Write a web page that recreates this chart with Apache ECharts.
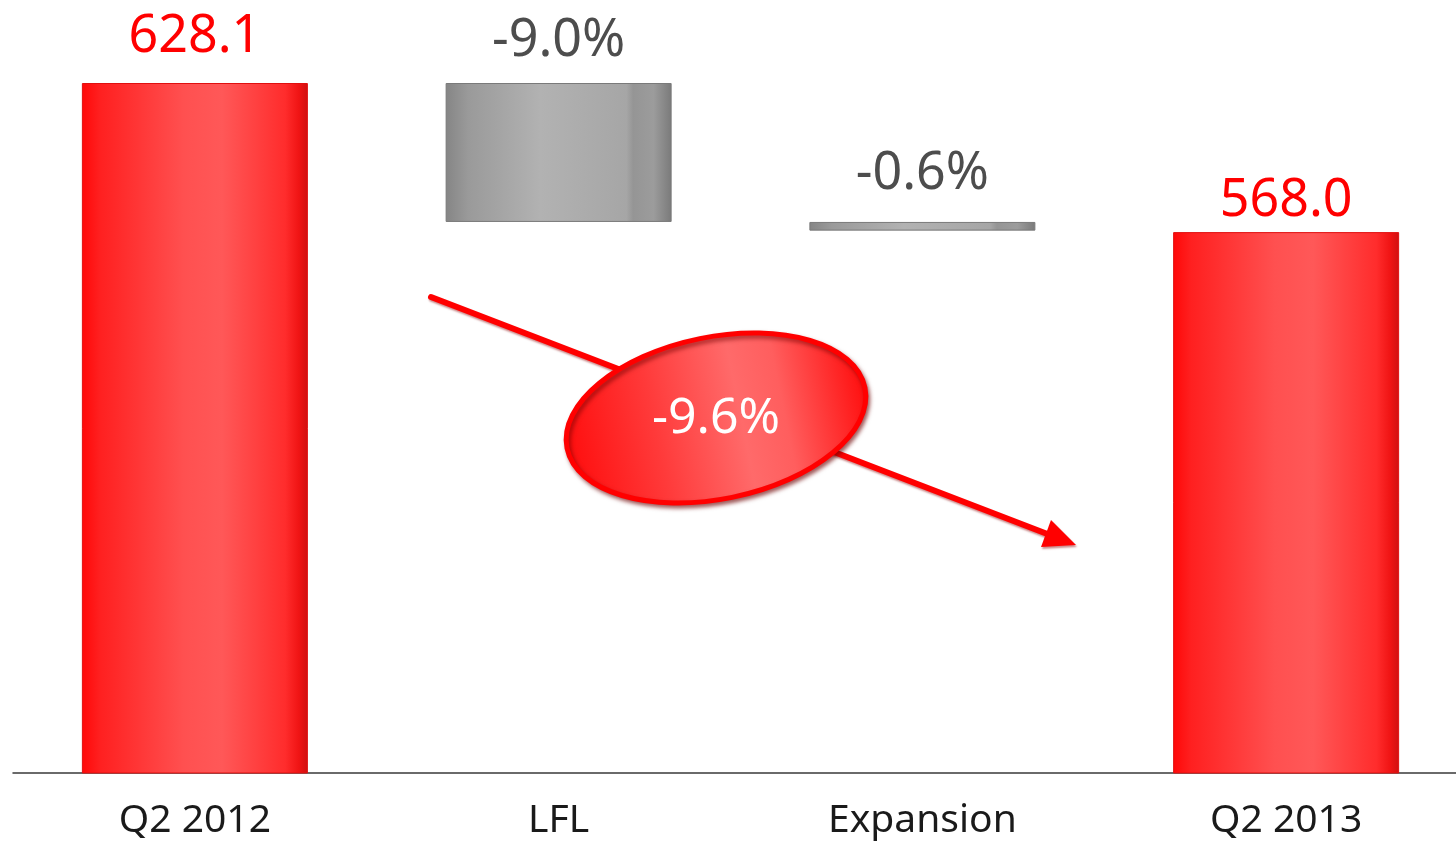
<!DOCTYPE html>
<html>
<head>
<meta charset="utf-8">
<style>html,body{margin:0;padding:0;background:#fff;overflow:hidden;}#chart{width:1470px;height:841px;}</style>
<script src="https://cdn.jsdelivr.net/npm/echarts@6/dist/echarts.min.js"></script>
</head>
<body>
<div id="chart"></div>
<script>
// ---- data ----
const categories = ['Q2 2012', 'LFL', 'Expansion', 'Q2 2013'];
const totalValues = [628.1, null, null, 568.0];      // red bars (absolute)
const changeValues = [null, -56.0, -3.5, null];     // grey bars (deltas)
const changeLabels = ['', '-9.0%', '-0.6%', ''];
const totalChangeLabel = '-9.6%';
const axisMin = 350;

// ---- build waterfall stacks ----
const baseData = [], totalData = [], changeData = [];
let running = 0;
categories.forEach((c, i) => {
  if (totalValues[i] != null) {
    running = totalValues[i];
    baseData.push(0);
    totalData.push(totalValues[i]);
    changeData.push('-');
  } else {
    const d = changeValues[i];
    const bottom = running + Math.min(d, 0);
    baseData.push(bottom);
    totalData.push('-');
    changeData.push(Math.abs(d));
    running += d;
  }
});

const FONT = '"Noto Sans", "Open Sans", sans-serif';
const redGrad = new echarts.graphic.LinearGradient(0, 0, 1, 0, [
  {offset: 0, color: '#ff0808'}, {offset: 0.08, color: '#ff2020'},
  {offset: 0.45, color: '#ff5050'}, {offset: 0.62, color: '#ff5858'},
  {offset: 0.9, color: '#ff2c2c'}, {offset: 0.96, color: '#f01414'},
  {offset: 1, color: '#d01010'}
]);
const greyGrad = new echarts.graphic.LinearGradient(0, 0, 1, 0, [
  {offset: 0, color: '#858585'}, {offset: 0.1, color: '#9a9a9a'},
  {offset: 0.42, color: '#b2b2b2'}, {offset: 0.8, color: '#a6a6a6'},
  {offset: 0.83, color: '#959595'}, {offset: 0.92, color: '#9c9c9c'},
  {offset: 1, color: '#7a7a7a'}
]);
const totalDistance = [20, 0, 0, 5];
const changeDistance = [0, 16, 22, 0];

const chart = echarts.init(document.getElementById('chart'), null, {renderer: 'canvas'});
chart.setOption({
  animation: false,
  backgroundColor: '#ffffff',
  grid: {left: 13, right: 2, top: 83, bottom: 68, containLabel: false},
  xAxis: {
    type: 'category',
    data: categories,
    axisLine: {show: true, lineStyle: {color: '#3a3a3a', width: 1.5}},
    axisTick: {show: false},
    axisLabel: {color: '#1a1a1a', fontSize: 39, fontFamily: FONT, margin: 28}
  },
  yAxis: {type: 'value', min: axisMin, max: 628.1, show: false, splitLine: {show: false}},
  series: [
    {
      type: 'bar', stack: 'w', data: baseData, barWidth: 226,
      itemStyle: {color: 'transparent'}, silent: true
    },
    {
      type: 'bar', stack: 'w', barWidth: 226,
      data: totalData.map((v, i) => v === '-' ? v : {
        value: v,
        label: {distance: totalDistance[i]}
      }),
      itemStyle: {color: redGrad, borderColor: '#e01010', borderWidth: 1},
      label: {
        show: true, position: 'top', color: '#ff0000', fontSize: 52,
        fontFamily: FONT, formatter: p => p.value.toFixed(1)
      }
    },
    {
      type: 'bar', stack: 'w', barWidth: 226,
      data: changeData.map((v, i) => v === '-' ? v : {
        value: v,
        label: {distance: changeDistance[i]}
      }),
      itemStyle: {color: greyGrad, borderColor: '#7a7a7a', borderWidth: 1},
      label: {
        show: true, position: 'top', color: '#4d4d4d', fontSize: 52,
        fontFamily: FONT, formatter: p => changeLabels[p.dataIndex]
      }
    }
  ],
  graphic: [
    {
      type: 'line', z: 100,
      shape: {x1: 431, y1: 297, x2: 1050, y2: 535},
      style: {stroke: '#ff0000', lineWidth: 6, lineCap: 'round',
        shadowColor: 'rgba(140,0,0,0.45)', shadowBlur: 2, shadowOffsetX: 1, shadowOffsetY: 2}
    },
    {
      type: 'polygon', z: 100,
      shape: {points: [[1076, 545], [1051, 520], [1041, 547]]},
      style: {fill: '#ff0000', shadowColor: 'rgba(140,0,0,0.45)', shadowBlur: 2, shadowOffsetX: 1, shadowOffsetY: 2}
    },
    {
      type: 'ellipse', z: 101,
      x: 716, y: 418, rotation: 0.2,
      shape: {cx: 0, cy: 0, rx: 152, ry: 81},
      style: {
        fill: new echarts.graphic.LinearGradient(0, 0, 1, 0, [
          {offset: 0, color: '#ff0d0d'}, {offset: 0.3, color: '#ff3a3a'},
          {offset: 0.58, color: '#ff6a6a'}, {offset: 0.72, color: '#ff5e5e'},
          {offset: 1, color: '#ff0d0d'}
        ]),
        stroke: '#ff0000', lineWidth: 5,
        shadowColor: 'rgba(110,0,0,0.55)', shadowBlur: 4, shadowOffsetX: 2, shadowOffsetY: 3
      }
    },
    {
      type: 'text', z: 102,
      x: 716, y: 419,
      style: {text: totalChangeLabel, fill: '#ffffff', font: '50px ' + FONT,
        textAlign: 'center', textVerticalAlign: 'middle'}
    }
  ]
});
</script>
</body>
</html>
